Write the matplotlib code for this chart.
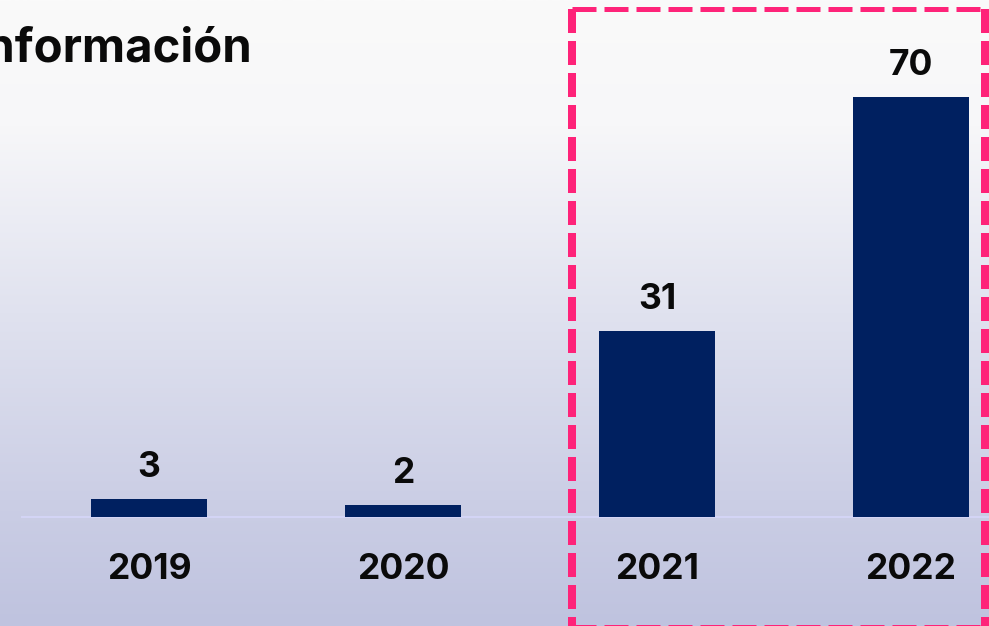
import numpy as np
import matplotlib
matplotlib.use("Agg")
import matplotlib.pyplot as plt
from matplotlib.colors import LinearSegmentedColormap
from matplotlib.lines import Line2D

plt.rcParams['font.family'] = ['Inter', 'DejaVu Sans']

# data
years = ["2019", "2020", "2021", "2022"]
values = [3, 2, 31, 70]
title = "Información"

W, H = 989, 626
fig = plt.figure(figsize=(W / 100, H / 100), dpi=100)
ax = fig.add_axes([0, 0, 1, 1])

# pixel mapping: bar centres 149 + 254*i, baseline at y=517, 6 px per unit
x0, step = 149, 254
base, ppu = 517, 6
ax.set_xlim(-x0 / step, (W - x0) / step)
ax.set_ylim(-(H - base) / ppu, base / ppu)
ax.axis("off")

# background gradient
bg = LinearSegmentedColormap.from_list(
    "bg", [(0, "#fafafa"), (0.2, "#f7f7f9"), (0.5, "#e0e2ef"),
           (0.8, "#cbcee5"), (1.0, "#bfc3df")])
grad = np.linspace(0, 1, 256).reshape(-1, 1)
ax.imshow(grad, cmap=bg, aspect="auto", extent=[0, 1, 0, 1],
          transform=ax.transAxes, zorder=0)

# baseline
ax.plot([22 / W, 1], [(H - base) / H] * 2, transform=ax.transAxes,
        color="#d3d4f5", lw=1.5, zorder=1)

x = np.arange(len(years))
bars = ax.bar(x, values, width=116 / step, color="#002060", zorder=2)

for xi, v in zip(x, values):
    ax.annotate(str(v), (xi, v), xytext=(0, 22), textcoords="offset pixels",
                ha="center", va="baseline", fontsize=25.5, fontweight="bold",
                color="#0a0a0a", zorder=3)
for xi, lab in zip(x, years):
    ax.annotate(lab, (xi, 0), xytext=(0, -62), textcoords="offset pixels",
                ha="center", va="baseline", fontsize=25.5, fontweight="bold",
                color="#0a0a0a", zorder=3)

# title, cut at left edge
fig.text(253 / W, 1 - 62 / H, title, ha="right", va="baseline",
         fontsize=34, fontweight="bold", color="#0a0a0a")

# dashed highlight box around 2021-2022
pink = "#fe2379"
dash = dict(color=pink, linestyle=(0, (24 / 5, 8 / 5)), solid_capstyle="butt",
            dash_capstyle="butt", transform=fig.transFigure, zorder=5)
L, R, T, B = 572 / W, 985 / W, 1 - 9 / H, 1 - 627 / H
fig.add_artist(Line2D([L, R], [T, T], lw=5 * 0.72, **dash))
fig.add_artist(Line2D([L, R], [B, B], lw=5 * 0.72, **dash))
dash["linestyle"] = (0, (24 / 8, 8 / 8))
fig.add_artist(Line2D([L, L], [T, B], lw=8 * 0.72, **dash))
fig.add_artist(Line2D([R, R], [T, B], lw=8 * 0.72, **dash))

fig.savefig("out.png", dpi=100)
